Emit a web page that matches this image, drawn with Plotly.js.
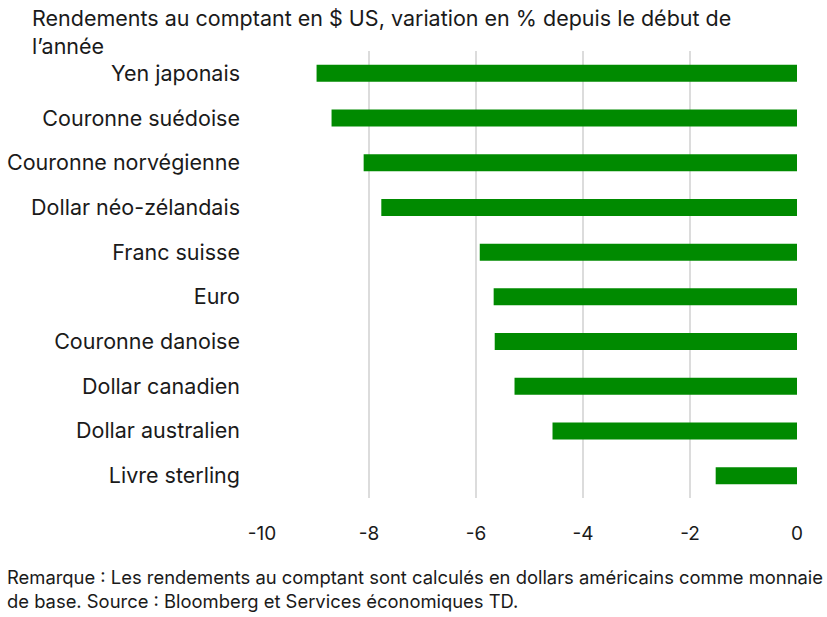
<!DOCTYPE html>
<html>
<head>
<meta charset="utf-8">
<script src="https://cdn.plot.ly/plotly-3.0.1.min.js"></script>
<style>
  html, body { margin: 0; padding: 0; background: #ffffff; }
  #chart { width: 827px; height: 617px; }
</style>
</head>
<body>
<div id="chart"></div>
<script>
// Currencies, top to bottom as shown
const currencies = [
    'Yen japonais', 'Couronne suédoise', 'Couronne norvégienne', 'Dollar néo-zélandais',
    'Franc suisse', 'Euro', 'Couronne danoise', 'Dollar canadien',
    'Dollar australien', 'Livre sterling'
];
// Spot returns vs USD, % change YTD
const ytdChange = [-8.98, -8.70, -8.10, -7.77, -5.93, -5.67, -5.65, -5.28, -4.57, -1.52];
const xTicks = [-10, -8, -6, -4, -2, 0];

const fontFamily = 'Inter, "Noto Sans", sans-serif';

const data = [{
    type: 'bar',
    orientation: 'h',
    y: currencies,
    x: ytdChange,
    marker: { color: '#008a00' },
    hoverinfo: 'x+y'
}];

const layout = {
    width: 827,
    height: 617,
    margin: { t: 51, b: 119, l: 262, r: 30 },
    paper_bgcolor: '#ffffff',
    plot_bgcolor: '#ffffff',
    bargap: 0.62,
    showlegend: false,
    font: { family: fontFamily, color: '#1a1a1a' },
    xaxis: {
        range: [-10, 0],
        tickvals: xTicks,
        ticktext: xTicks.map(String),
        showgrid: true,
        gridcolor: '#dcdcdc',
        gridwidth: 2,
        zeroline: false,
        showline: false,
        ticks: '',
        ticklabelstandoff: 22,
        tickfont: { size: 19, family: fontFamily, color: '#1a1a1a' }
    },
    yaxis: {
        categoryorder: 'array',
        categoryarray: currencies.slice().reverse(),
        showgrid: false,
        zeroline: false,
        showline: false,
        ticks: '',
        ticklabelstandoff: 21,
        tickfont: { size: 21.5, family: fontFamily, color: '#1a1a1a' }
    },
    annotations: [
        {
            xref: 'paper', yref: 'paper',
            x: (30 - 262) / 535, y: 1 + 48 / 447,
            xanchor: 'left', yanchor: 'top',
            align: 'left',
            showarrow: false,
            text: 'Rendements au comptant en $ US, variation en % depuis le début de<br>l’année',
            font: { size: 21.5, family: fontFamily, color: '#1a1a1a' }
        },
        {
            xref: 'paper', yref: 'paper',
            x: (5 - 262) / 535, y: -66 / 447,
            xanchor: 'left', yanchor: 'top',
            align: 'left',
            showarrow: false,
            text: 'Remarque : Les rendements au comptant sont calculés en dollars américains comme monnaie<br>de base. Source : Bloomberg et Services économiques TD.',
            font: { size: 18.4, family: fontFamily, color: '#1a1a1a' }
        }
    ]
};

Plotly.newPlot('chart', data, layout, { displayModeBar: false, responsive: false });
</script>
</body>
</html>
